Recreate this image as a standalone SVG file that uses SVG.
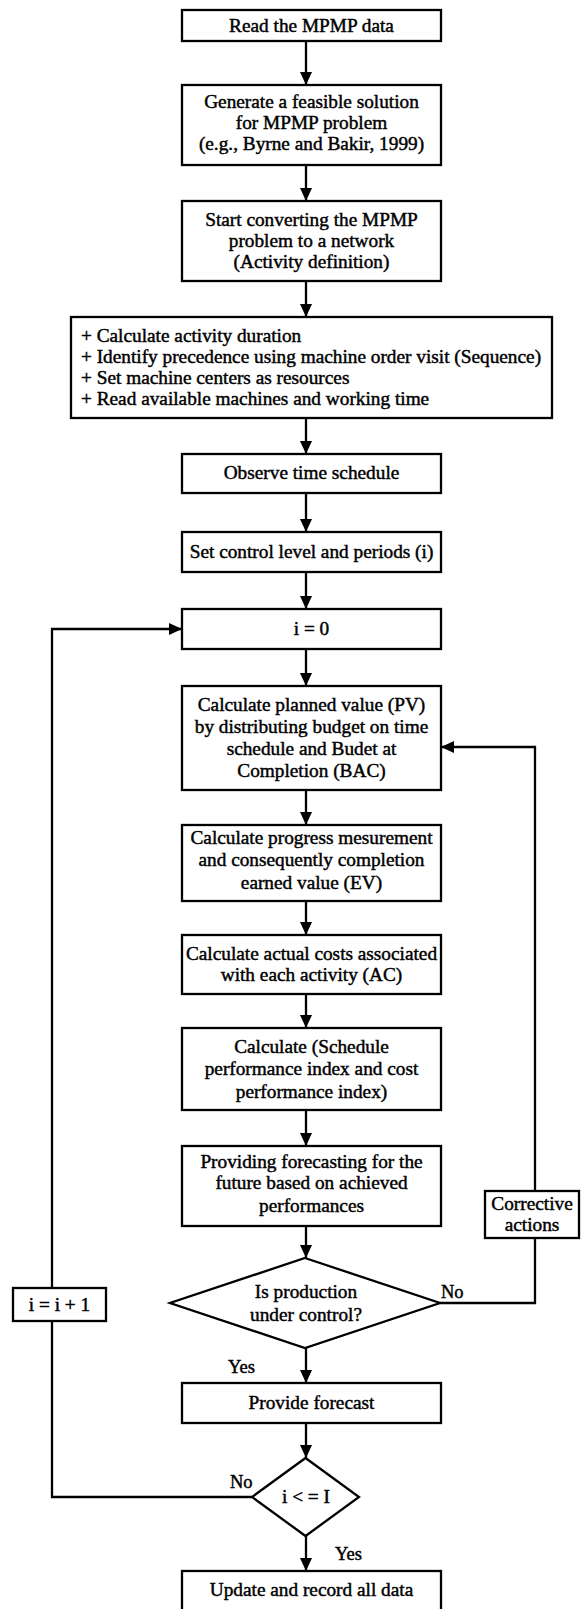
<svg xmlns="http://www.w3.org/2000/svg" width="581" height="1609" viewBox="0 0 581 1609">
<style>
  .box{fill:#fff;stroke:#000;stroke-width:2.3}
  .t{font-family:"Liberation Serif","Times New Roman",serif;font-size:19.3px;text-anchor:middle;fill:#000;stroke:#000;stroke-width:0.45}
  .tl{font-family:"Liberation Serif","Times New Roman",serif;font-size:19.3px;text-anchor:start;fill:#000;stroke:#000;stroke-width:0.45}
  .lbl{font-family:"Liberation Serif","Times New Roman",serif;font-size:18.5px;fill:#000;stroke:#000;stroke-width:0.45}
  .c{fill:none;stroke:#000;stroke-width:2.3}
</style>
<defs>
  <marker id="ah" viewBox="0 0 13 12" refX="13" refY="6" markerWidth="13" markerHeight="12" markerUnits="userSpaceOnUse" orient="auto">
    <path d="M0,0 L13,6 L0,12 z" fill="#000"/>
  </marker>
</defs>
<rect width="581" height="1609" fill="#fff"/>
<g id="connectors">
  <path class="c" d="M306,41 V85" marker-end="url(#ah)"/>
  <path class="c" d="M306,165 V201" marker-end="url(#ah)"/>
  <path class="c" d="M306,281 V317" marker-end="url(#ah)"/>
  <path class="c" d="M306,418 V454" marker-end="url(#ah)"/>
  <path class="c" d="M306,493 V532" marker-end="url(#ah)"/>
  <path class="c" d="M306,572 V609" marker-end="url(#ah)"/>
  <path class="c" d="M306,649 V686" marker-end="url(#ah)"/>
  <path class="c" d="M306,790 V825" marker-end="url(#ah)"/>
  <path class="c" d="M306,901 V935" marker-end="url(#ah)"/>
  <path class="c" d="M306,994 V1028" marker-end="url(#ah)"/>
  <path class="c" d="M306,1110 V1146" marker-end="url(#ah)"/>
  <path class="c" d="M306,1226 V1258" marker-end="url(#ah)"/>
  <path class="c" d="M306,1348 V1383" marker-end="url(#ah)"/>
  <path class="c" d="M306,1423 V1458" marker-end="url(#ah)"/>
  <path class="c" d="M306,1536 V1571" marker-end="url(#ah)"/>
  <path class="c" d="M440,1303 H535 V747 H441" marker-end="url(#ah)"/>
  <path class="c" d="M252,1497 H52 V629 H182" marker-end="url(#ah)"/>
  <text class="lbl" x="441" y="1298">No</text>
  <text class="lbl" x="228" y="1373">Yes</text>
  <text class="lbl" x="230" y="1488">No</text>
  <text class="lbl" x="335" y="1560">Yes</text>
</g>
<g id="n1"><rect class="box" x="182" y="10" width="259" height="31"/>
  <text class="t" x="311.5" y="32">Read the MPMP data</text></g>
<g id="n2"><rect class="box" x="182" y="85" width="259" height="80"/>
  <text class="t" x="311.5" y="108">Generate a feasible solution</text>
  <text class="t" x="311.5" y="129">for MPMP problem</text>
  <text class="t" x="311.5" y="150">(e.g., Byrne and Bakir, 1999)</text></g>
<g id="n3"><rect class="box" x="182" y="201" width="259" height="80"/>
  <text class="t" x="311.5" y="226">Start converting the MPMP</text>
  <text class="t" x="311.5" y="247">problem to a network</text>
  <text class="t" x="311.5" y="268">(Activity definition)</text></g>
<g id="n4"><rect class="box" x="71" y="317" width="481" height="101"/>
  <text class="tl" x="81" y="342">+ Calculate activity duration</text>
  <text class="tl" x="81" y="363">+ Identify precedence using machine order visit (Sequence)</text>
  <text class="tl" x="81" y="384">+ Set machine centers as resources</text>
  <text class="tl" x="81" y="405">+ Read available machines and working time</text></g>
<g id="n5"><rect class="box" x="182" y="454" width="259" height="39"/>
  <text class="t" x="311.5" y="479">Observe time schedule</text></g>
<g id="n6"><rect class="box" x="182" y="532" width="259" height="40"/>
  <text class="t" x="311.5" y="558">Set control level and periods (i)</text></g>
<g id="n7"><rect class="box" x="182" y="609" width="259" height="40"/>
  <text class="t" x="311.5" y="635">i = 0</text></g>
<g id="n8"><rect class="box" x="182" y="686" width="259" height="104"/>
  <text class="t" x="311.5" y="711">Calculate planned value (PV)</text>
  <text class="t" x="311.5" y="733">by distributing budget on time</text>
  <text class="t" x="311.5" y="755">schedule and Budet at</text>
  <text class="t" x="311.5" y="777">Completion (BAC)</text></g>
<g id="n9"><rect class="box" x="182" y="825" width="259" height="76"/>
  <text class="t" x="311.5" y="844">Calculate progress mesurement</text>
  <text class="t" x="311.5" y="866">and consequently completion</text>
  <text class="t" x="311.5" y="889">earned value (EV)</text></g>
<g id="n10"><rect class="box" x="182" y="935" width="259" height="59"/>
  <text class="t" x="311.5" y="960">Calculate actual costs associated</text>
  <text class="t" x="311.5" y="981">with each activity (AC)</text></g>
<g id="n11"><rect class="box" x="182" y="1028" width="259" height="82"/>
  <text class="t" x="311.5" y="1053">Calculate (Schedule</text>
  <text class="t" x="311.5" y="1075">performance index and cost</text>
  <text class="t" x="311.5" y="1098">performance index)</text></g>
<g id="n12"><rect class="box" x="182" y="1146" width="259" height="80"/>
  <text class="t" x="311.5" y="1168">Providing forecasting for the</text>
  <text class="t" x="311.5" y="1189">future based on achieved</text>
  <text class="t" x="311.5" y="1212">performances</text></g>
<g id="n13"><rect class="box" x="485" y="1191" width="94" height="47"/>
  <text class="t" x="532" y="1210">Corrective</text>
  <text class="t" x="532" y="1231">actions</text></g>
<g id="n14"><polygon class="box" points="305,1258 440,1303 305,1348 170,1303"/>
  <text class="t" x="306" y="1298">Is production</text>
  <text class="t" x="306" y="1321">under control?</text></g>
<g id="n15"><rect class="box" x="13" y="1288" width="93" height="33"/>
  <text class="t" x="59.5" y="1311">i = i + 1</text></g>
<g id="n16"><rect class="box" x="182" y="1383" width="259" height="40"/>
  <text class="t" x="311.5" y="1409">Provide forecast</text></g>
<g id="n17"><polygon class="box" points="305.5,1458 359,1497 305.5,1536 252,1497"/>
  <text class="t" x="306" y="1503">i &lt; = I</text></g>
<g id="n18"><rect class="box" x="182" y="1571" width="259" height="41"/>
  <text class="t" x="311.5" y="1596">Update and record all data</text></g>
</svg>
